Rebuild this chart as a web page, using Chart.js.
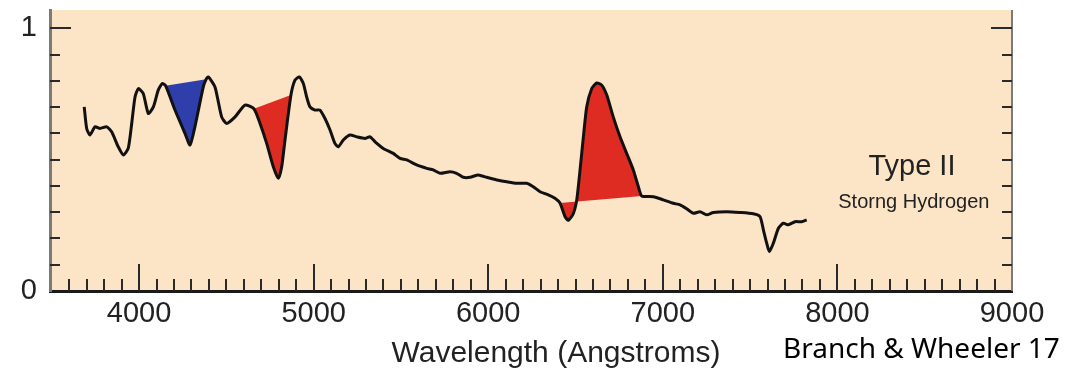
<!DOCTYPE html>
<html>
<head>
<meta charset="utf-8">
<script src="https://cdn.jsdelivr.net/npm/chart.js@4.4.1/dist/chart.umd.min.js"></script>
<style>
  html, body { margin: 0; padding: 0; background: #fff; }
  #wrap { width: 1084px; height: 379px; position: relative; }
</style>
</head>
<body>
<div id="wrap"><canvas id="chart" width="1084" height="379"></canvas></div>
<script>
// spectrum (wavelength in Angstroms, relative flux)
const wavelength = [
    3686, 3700, 3719, 3748, 3776, 3815, 3843, 3881, 3910, 3938,
    3958, 3977, 3996, 4024, 4053, 4082, 4110, 4133, 4152, 4206,
    4263, 4292, 4320, 4368, 4384, 4397, 4435, 4473, 4502, 4550,
    4607, 4658, 4693, 4731, 4769, 4798, 4817, 4836, 4870, 4893,
    4918, 4941, 4960, 4979, 5008, 5036, 5065, 5094, 5122, 5141,
    5170, 5208, 5247, 5294, 5323, 5352, 5399, 5456, 5495, 5533,
    5590, 5648, 5685, 5724, 5781, 5819, 5857, 5896, 5943, 5991,
    6049, 6106, 6163, 6220, 6258, 6297, 6344, 6382, 6411, 6440,
    6459, 6487, 6507, 6526, 6545, 6564, 6593, 6621, 6650, 6679,
    6716, 6755, 6793, 6831, 6860, 6879, 6946, 7003, 7060, 7099,
    7137, 7175, 7213, 7251, 7289, 7366, 7442, 7518, 7557, 7576,
    7595, 7610, 7633, 7662, 7690, 7719, 7757, 7795, 7824
];
const flux = [
    0.701, 0.619, 0.594, 0.625, 0.619, 0.625, 0.606, 0.549, 0.518, 0.543,
    0.638, 0.739, 0.771, 0.752, 0.676, 0.701, 0.765, 0.790, 0.782, 0.689,
    0.600, 0.556, 0.625, 0.777, 0.806, 0.815, 0.777, 0.663, 0.638, 0.663,
    0.708, 0.694, 0.638, 0.562, 0.473, 0.429, 0.473, 0.575, 0.746, 0.803,
    0.815, 0.790, 0.739, 0.701, 0.689, 0.689, 0.657, 0.613, 0.562, 0.549,
    0.575, 0.594, 0.587, 0.581, 0.587, 0.568, 0.543, 0.524, 0.505, 0.499,
    0.480, 0.467, 0.461, 0.448, 0.454, 0.448, 0.433, 0.433, 0.442, 0.433,
    0.423, 0.416, 0.410, 0.410, 0.397, 0.378, 0.366, 0.353, 0.335, 0.283,
    0.269, 0.294, 0.347, 0.461, 0.587, 0.701, 0.771, 0.792, 0.784, 0.746,
    0.663, 0.587, 0.524, 0.461, 0.397, 0.362, 0.359, 0.347, 0.334, 0.328,
    0.313, 0.296, 0.302, 0.290, 0.299, 0.302, 0.299, 0.294, 0.283, 0.233,
    0.182, 0.150, 0.182, 0.239, 0.258, 0.252, 0.264, 0.264, 0.271
];

// shaded hydrogen lines: H-gamma (blue), H-beta and H-alpha (red)
const lineRegions = [
    { from: 4152, to: 4384, color: 'rgb(46, 62, 170)' },
    { from: 4658, to: 4870, color: 'rgb(222, 44, 34)' },
    { from: 6411, to: 6879, color: 'rgb(222, 44, 34)' }
];

const xTickValues = [4000, 5000, 6000, 7000, 8000, 9000];
const yTickValues = [0, 1];

const points = wavelength.map((w, i) => ({ x: w, y: flux[i] }));

const fillSets = lineRegions.map(r => ({
    data: points.filter(p => p.x >= r.from && p.x <= r.to),
    backgroundColor: r.color,
    borderWidth: 0,
    pointRadius: 0,
    tension: 0.2,
    fill: 'shape'
}));

const labelFont = "'Liberation Sans', Arial, Helvetica, sans-serif";

const decor = {
    id: 'decor',
    beforeDraw(chart) {
        const { ctx, chartArea: a } = chart;
        ctx.save();
        ctx.fillStyle = '#fce4c7';
        ctx.fillRect(a.left, a.top, a.right - a.left, a.bottom - a.top);
        ctx.restore();
    },
    afterDraw(chart) {
        const { ctx, chartArea: a, scales: { x, y } } = chart;
        ctx.save();

        // right frame
        ctx.strokeStyle = '#7a7a7a';
        ctx.lineWidth = 2;
        ctx.beginPath();
        ctx.moveTo(a.right, a.top);
        ctx.lineTo(a.right, a.bottom);
        ctx.stroke();

        // inward tick marks
        ctx.strokeStyle = '#2a2a2a';
        ctx.lineWidth = 2;
        ctx.beginPath();
        for (let v = 3600; v < 9000; v += 100) {
            const px = Math.round(x.getPixelForValue(v));
            const len = v % 1000 === 0 ? 27 : 12;
            ctx.moveTo(px, a.bottom);
            ctx.lineTo(px, a.bottom - len);
        }
        for (let i = 1; i <= 10; i++) {
            const py = Math.round(y.getPixelForValue(i / 10));
            const len = i === 10 ? 21 : 10;
            ctx.moveTo(a.left, py);
            ctx.lineTo(a.left + len, py);
            ctx.moveTo(a.right, py);
            ctx.lineTo(a.right - len, py);
        }
        ctx.stroke();

        // texts
        ctx.fillStyle = '#222';
        ctx.textBaseline = 'alphabetic';
        ctx.textAlign = 'center';
        ctx.font = '29px ' + labelFont;
        ctx.fillText('Type II', x.getPixelForValue(8427), y.getPixelForValue(0.44));
        ctx.font = '20px ' + labelFont;
        ctx.fillText('Storng Hydrogen', x.getPixelForValue(8438), y.getPixelForValue(0.315));

        ctx.font = '30px ' + labelFont;
        ctx.fillText('Wavelength (Angstroms)', 556, 362);

        ctx.fillStyle = '#000';
        ctx.textAlign = 'left';
        ctx.font = "28px 'Noto Sans', 'Open Sans', sans-serif";
        ctx.fillText('Branch & Wheeler 17', 783, 358);
        ctx.restore();
    }
};

new Chart(document.getElementById('chart'), {
    type: 'line',
    data: {
        datasets: [{
            data: points,
            borderColor: '#111',
            borderWidth: 3,
            pointRadius: 0,
            tension: 0.2,
            fill: false
        }, ...fillSets]
    },
    options: {
        responsive: false,
        animation: false,
        layout: { padding: { top: 10, right: 72, bottom: 0, left: 0 } },
        plugins: {
            legend: { display: false },
            tooltip: { enabled: false }
        },
        scales: {
            x: {
                type: 'linear',
                min: 3490,
                max: 9000,
                afterFit: s => { s.height = 88; s.paddingLeft = 0; s.paddingRight = 0; },
                afterBuildTicks: s => { s.ticks = xTickValues.map(v => ({ value: v })); },
                grid: { display: false, drawTicks: false },
                border: { color: '#1a1a1a', width: 3 },
                ticks: {
                    autoSkip: false,
                    maxRotation: 0,
                    padding: 6,
                    color: '#222',
                    font: { family: labelFont, size: 29 },
                    callback: v => String(v)
                }
            },
            y: {
                min: 0,
                max: 1.07,
                afterFit: s => { s.width = 50; s.paddingTop = 0; s.paddingBottom = 0; },
                afterBuildTicks: s => { s.ticks = yTickValues.map(v => ({ value: v })); },
                grid: { display: false, drawTicks: false },
                border: { color: '#7a7a7a', width: 3 },
                ticks: {
                    padding: 13,
                    color: '#222',
                    font: { family: labelFont, size: 29 },
                    callback: v => String(v)
                }
            }
        }
    },
    plugins: [decor]
});
</script>
</body>
</html>
